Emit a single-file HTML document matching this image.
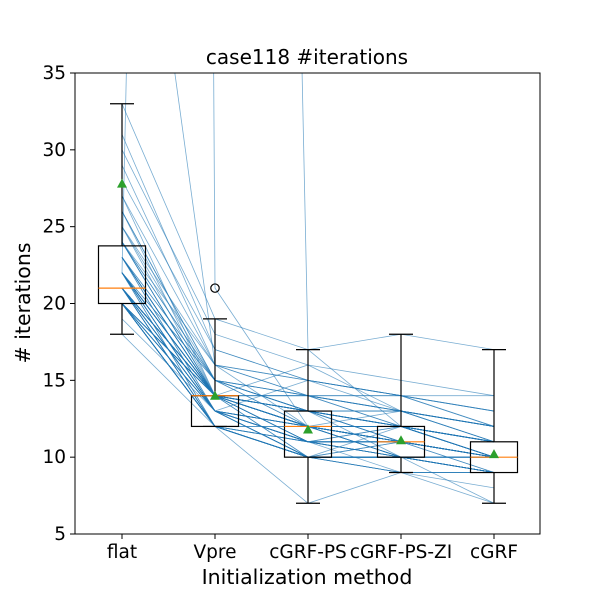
<!DOCTYPE html>
<html><head><meta charset="utf-8"><style>
body{margin:0;background:#fff}
svg text{font-family:"DejaVu Sans","Liberation Sans",sans-serif;fill:#000}
</style></head><body>
<svg id="chart" width="600" height="600" viewBox="0 0 600 600">
<defs><clipPath id="clip"><rect x="75" y="73" width="465" height="461"/></clipPath></defs>
<rect x="0" y="0" width="600" height="600" fill="#fff"/>
<g id="lines" clip-path="url(#clip)"></g>
<g id="boxes"></g>
<rect x="75" y="73" width="465" height="461" fill="none" stroke="#000" stroke-width="1"/>
<g id="axes"></g>
<text x="307" y="64" font-size="20" text-anchor="middle">case118 #iterations</text>
<text x="307" y="584" font-size="20.5" text-anchor="middle">Initialization method</text>
<text transform="translate(30,303) rotate(-90)" font-size="20.5" text-anchor="middle">&#35; iterations</text>
</svg>
<script>
const categories=["flat","Vpre","cGRF-PS","cGRF-PS-ZI","cGRF"];
const yTicks=[5,10,15,20,25,30,35];
const series=[[20,12,10,10,9],[21,14,12,11,10],[22,13,12,11,10],[20,12,10,9,9],[21,14,13,12,11],[23,14,12,11,10],[24,15,13,12,11],[22,14,12,10,10],[21,13,11,11,10],[20,12,10,10,10],[25,14,13,12,11],[26,15,13,12,10],[27,16,14,13,12],[28,17,15,14,13],[30,18,16,15,14],[33,19,17,18,17],[19,13,11,11,9],[18,12,10,10,9],[21,14,12,12,11],[22,14,13,12,10],[23,13,12,11,10],[20,14,12,11,10],[21,12,10,10,9],[24,14,12,11,10],[22,13,11,10,9],[20,12,11,10,9],[21,14,12,11,10],[23,15,13,12,11],[29,16,14,13,12],[31,17,15,14,12],[60,16,12,11,10],[1000,21,12,11,10],[22,300,17,12,11],[20,13,10,9,7],[21,12,7,9,8],[22,13,10,10,7],[20,12,12,12,11],[21,14,14,13,12],[24,16,15,14,13],[22,15,13,13,11],[21,13,12,12,10],[20,14,11,10,9],[23,14,12,11,10],[25,15,12,11,10],[26,14,11,10,9],[20,12,10,11,10],[21,13,11,12,11],[22,14,13,12,11],[21,14,12,11,10],[20,13,10,10,9],[22,14,12,10,9],[21,12,10,9,9],[23,14,13,13,12],[20,12,11,11,10],[20,12,10,10,10],[21,13,10,10,9],[22,14,12,12,10],[20,14,13,11,10],[21,14,14,12,10],[22,12,10,10,9],[23,14,11,11,10],[20,13,12,12,11],[21,14,13,13,12],[22,14,12,11,10],[20,12,10,12,10],[21,13,11,10,9],[24,15,14,14,13],[22,14,13,11,10],[21,12,11,11,10],[20,14,14,14,12],[23,15,12,12,10],[22,13,10,9,9],[21,14,10,10,10],[20,12,12,10,9],[25,16,15,13,11],[26,15,14,12,11],[27,14,13,11,10],[22,14,16,13,12],[21,13,15,14,14],[20,14,12,13,12],[23,14,10,10,9],[22,12,11,9,9],[21,14,13,10,10],[20,13,11,12,10],[24,14,12,12,11],[22,15,14,13,11],[21,14,12,10,9],[20,12,10,11,9],[23,13,12,11,10],[22,14,11,11,10],[20,12,10,10,9],[21,13,12,11,10],[22,14,12,12,11],[20,14,13,12,10],[21,12,10,10,10],[23,14,12,10,9],[22,13,11,11,10],[24,14,13,12,11],[20,13,10,10,9],[21,14,11,10,10]];
const whiskLo=[18,12,7,9,7];
const q1=[20,12,10,10,9];
const medians=[21,14,12,11,10];
const q3=[23.75,14,13,12,11];
const whiskHi=[33,19,17,18,17];
const means=[27.8,14,11.8,11.1,10.2];
const outlierCat=[1];
const outlierVal=[21];
const NS='http://www.w3.org/2000/svg';
const xS=i=>122+i*93;
const yS=v=>534-(v-5)*(461/30);
function mk(t,a,p){const e=document.createElementNS(NS,t);for(const k in a)e.setAttribute(k,a[k]);p.appendChild(e);return e;}
const L=document.getElementById('lines'),B=document.getElementById('boxes'),A=document.getElementById('axes');
series.forEach(s=>{const e=mk('polyline',{points:s.map((v,i)=>xS(i)+','+yS(v)).join(' '),fill:'none',stroke:'#1f77b4','stroke-width':0.8,'stroke-opacity':0.6},L);

});
categories.forEach((c,i)=>{const x=xS(i);const g=mk('g',{},B);


mk('line',{x1:x,x2:x,y1:yS(whiskLo[i]),y2:yS(q1[i]),stroke:'#000','stroke-width':1.2},g);
mk('line',{x1:x,x2:x,y1:yS(whiskHi[i]),y2:yS(q3[i]),stroke:'#000','stroke-width':1.2},g);
mk('line',{x1:x-12,x2:x+12,y1:yS(whiskLo[i]),y2:yS(whiskLo[i]),stroke:'#000','stroke-width':1.2},g);
mk('line',{x1:x-12,x2:x+12,y1:yS(whiskHi[i]),y2:yS(whiskHi[i]),stroke:'#000','stroke-width':1.2},g);
mk('rect',{x:x-23.5,y:yS(q3[i]),width:47,height:Math.max(0.5,yS(q1[i])-yS(q3[i])),fill:'none',stroke:'#000','stroke-width':1.2},g);
mk('line',{x1:x-23.5,x2:x+23.5,y1:yS(medians[i]),y2:yS(medians[i]),stroke:'#ff7f0e','stroke-width':1.2},g);
const my=yS(means[i]);mk('polygon',{points:`${x},${my-5} ${x-5},${my+4} ${x+5},${my+4}`,fill:'#2ca02c'},g);
const t=mk('text',{x:x,y:558,'font-size':18.5,'text-anchor':'middle'},A);t.textContent=c;


mk('line',{x1:x,x2:x,y1:534,y2:539,stroke:'#000'},A);});
outlierCat.forEach((c,k)=>{const e=mk('circle',{cx:xS(c),cy:yS(outlierVal[k]),r:4.2,fill:'none',stroke:'#000','stroke-width':1.2},B);

});
yTicks.forEach(v=>{const y=yS(v);mk('line',{x1:70,x2:75,y1:y,y2:y,stroke:'#000'},A);
const t=mk('text',{x:66,y:y+6,'font-size':18.5,'text-anchor':'end'},A);t.textContent=v;

});
</script>
</body></html>
